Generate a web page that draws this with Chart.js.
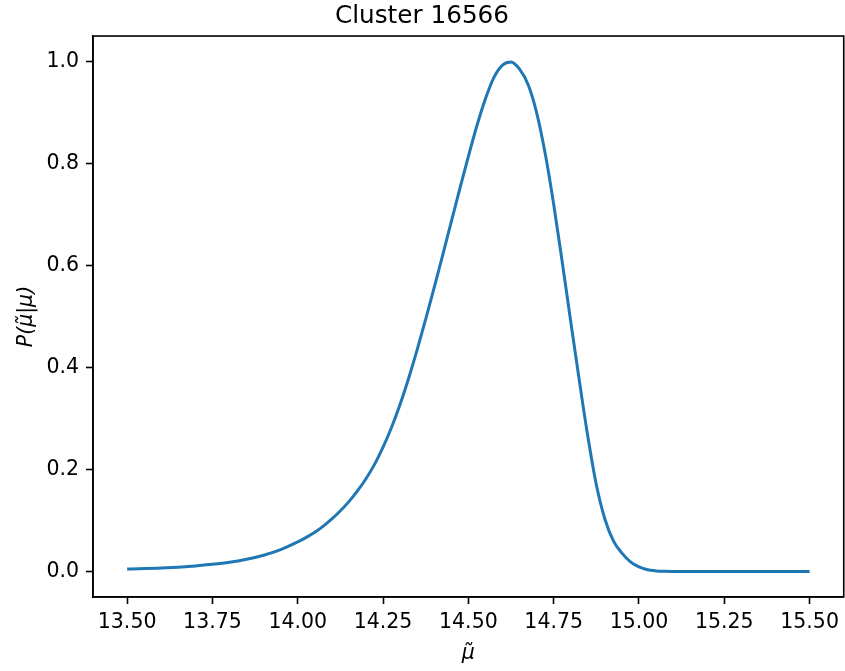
<!DOCTYPE html>
<html>
<head>
<meta charset="utf-8">
<script src="https://cdn.jsdelivr.net/npm/chart.js@4/dist/chart.umd.min.js"></script>
<style>
  html, body { margin: 0; padding: 0; background: #ffffff; }
  #wrap { width: 845px; height: 671px; }
</style>
</head>
<body>
<div id="wrap"><canvas id="c" width="845" height="671"></canvas></div>
<script>
// Posterior curve for the cluster: mu-tilde values and normalised probability
const muTilde = [13.50, 13.60, 13.70, 13.75, 13.80, 13.85, 13.90, 13.95, 14.00, 14.025,
                 14.05, 14.075, 14.10, 14.125, 14.15, 14.175, 14.20, 14.225, 14.25, 14.275,
                 14.30, 14.325, 14.35, 14.375, 14.40, 14.425, 14.45, 14.475, 14.50, 14.525,
                 14.55, 14.575, 14.60, 14.625, 14.65, 14.675, 14.70, 14.725, 14.75, 14.775,
                 14.80, 14.825, 14.85, 14.875, 14.90, 14.925, 14.95, 14.975, 15.00, 15.025,
                 15.05, 15.075, 15.10, 15.20, 15.30, 15.40, 15.50];
const prob = [0.005, 0.007, 0.011, 0.014, 0.018, 0.024, 0.032, 0.043, 0.058, 0.067,
              0.077, 0.089, 0.103, 0.119, 0.137, 0.158, 0.182, 0.210, 0.244, 0.283,
              0.328, 0.379, 0.435, 0.495, 0.557, 0.621, 0.686, 0.751, 0.814, 0.874,
              0.927, 0.969, 0.993, 0.999, 0.985, 0.955, 0.900, 0.820, 0.720, 0.607,
              0.490, 0.375, 0.265, 0.170, 0.103, 0.060, 0.036, 0.019, 0.009, 0.0035,
              0.0012, 0.0003, 0.0001, 0.0, 0.0, 0.0, 0.0];

const xTicks = [13.50, 13.75, 14.00, 14.25, 14.50, 14.75, 15.00, 15.25, 15.50];
const yTicks = [0.0, 0.2, 0.4, 0.6, 0.8, 1.0];

const chartTitle = 'Cluster 16566';
const xLabel = 'μ̃';
const yLabel = 'P(μ̃|μ)';

const FONT = "'DejaVu Sans', sans-serif";

// Closed frame around the plotting area (top and right spines)
const framePlugin = {
  id: 'frame',
  afterDatasetsDraw(chart) {
    const { ctx, chartArea: a } = chart;
    ctx.save();
    ctx.strokeStyle = '#000000';
    ctx.lineWidth = 1.6;
    ctx.strokeRect(a.left, a.top, a.right - a.left, a.bottom - a.top);
    ctx.restore();
  }
};

new Chart(document.getElementById('c'), {
  type: 'line',
  data: {
    datasets: [{
      data: muTilde.map((x, i) => ({ x: x, y: prob[i] })),
      borderColor: '#1f77b4',
      borderWidth: 3,
      pointRadius: 0,
      fill: false,
      cubicInterpolationMode: 'monotone'
    }]
  },
  options: {
    responsive: false,
    animation: false,
    devicePixelRatio: 1,
    layout: { padding: { left: 0, right: 1, top: 0, bottom: 0 } },
    plugins: {
      legend: { display: false },
      tooltip: { enabled: false },
      title: {
        display: true,
        text: chartTitle,
        color: '#000000',
        font: { family: FONT, size: 24.7, weight: 'normal', lineHeight: 1.2 },
        padding: { top: 2, bottom: 4.4 }
      }
    },
    scales: {
      x: {
        type: 'linear',
        min: 13.4,
        max: 15.6,
        afterBuildTicks(scale) { scale.ticks = xTicks.map(v => ({ value: v })); },
        afterFit(scale) { scale.height = 74; },
        ticks: {
          color: '#000000',
          font: { family: FONT, size: 20.5 },
          padding: 6,
          maxRotation: 0,
          autoSkip: false,
          callback: v => Number(v).toFixed(2)
        },
        grid: {
          drawOnChartArea: false,
          drawTicks: true,
          tickLength: 7,
          tickWidth: 1.6,
          tickColor: '#000000'
        },
        border: { display: true, color: '#000000', width: 1.6 },
        title: {
          display: true,
          text: xLabel,
          color: '#000000',
          font: { family: FONT, size: 20.5, style: 'italic' },
          padding: { top: 2, bottom: 5 }
        }
      },
      y: {
        type: 'linear',
        min: -0.05,
        max: 1.05,
        afterBuildTicks(scale) { scale.ticks = yTicks.map(v => ({ value: v })); },
        afterFit(scale) { scale.width = 93; },
        ticks: {
          color: '#000000',
          font: { family: FONT, size: 20.5 },
          padding: 7,
          autoSkip: false,
          callback: v => Number(v).toFixed(1)
        },
        grid: {
          drawOnChartArea: false,
          drawTicks: true,
          tickLength: 7,
          tickWidth: 1.6,
          tickColor: '#000000'
        },
        border: { display: true, color: '#000000', width: 1.6 },
        title: {
          display: true,
          text: yLabel,
          color: '#000000',
          font: { family: FONT, size: 20.5, style: 'italic' },
          padding: { top: 14, bottom: 4 }
        }
      }
    }
  },
  plugins: [framePlugin]
});
</script>
</body>
</html>
